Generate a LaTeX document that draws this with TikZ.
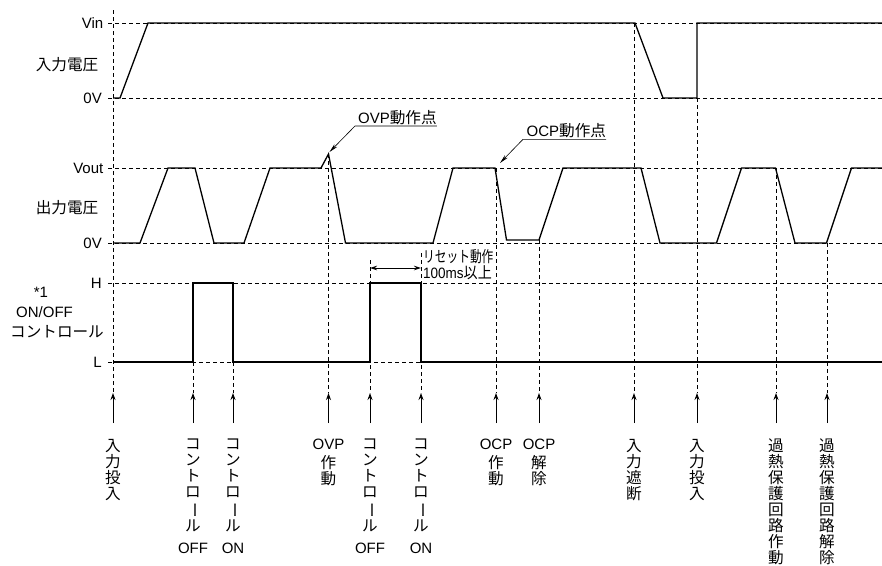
\documentclass[tikz,border=0pt]{standalone}
\usepackage{fontspec}
\usepackage{graphicx}
\setmainfont{Liberation Sans}
\newfontfamily\jp{Noto Sans CJK JP}[Scale=1.04]
\usetikzlibrary{arrows.meta}
\newcommand{\vbar}{\rotatebox[origin=c]{-90}{ー}}
\newcommand{\lat}[1]{{\normalfont #1}}
\begin{document}
\begin{tikzpicture}[x=1pt,y=-1pt,
  wave/.style={line width=1.3pt, line join=miter},
  guide/.style={line width=0.75pt, dash pattern=on 4pt off 3pt},
  evarrow/.style={line width=0.9pt, -{Stealth[length=7pt,width=5pt]}},
  leader/.style={line width=0.6pt, -{Stealth[length=9pt,width=3.8pt]}},
  resetarrow/.style={line width=0.9pt, {Stealth[length=7pt,width=4.5pt]}-{Stealth[length=7pt,width=4.5pt]}},
  lbl/.style={font=\fontsize{15}{16}\selectfont, inner sep=0pt},
  jlbl/.style={font=\fontsize{15}{16}\selectfont\jp, inner sep=0pt},
  vlbl/.style={jlbl, align=center, anchor=north},
]
\useasboundingbox (0,0) rectangle (882,565);

% horizontal guides
\foreach \y in {23,98,168,243,283,362} \draw[guide] (108,\y) -- (882,\y);

% vertical guides
\foreach \x/\y in {113/10,193/362,233/362,328.5/154,370/260,421/253,496/168,539/240,634/23,697/98,776/168,827/243}
  \draw[guide] (\x,\y) -- (\x,393);

% input voltage
\draw[wave] (113,98) -- (120,98) -- (148,23) -- (635,23) -- (663,98) -- (697,98) -- (697,23) -- (882,23);
% output voltage
\draw[wave] (113,243) -- (140,243) -- (168,168) -- (195,168) -- (214,243) -- (244,243) -- (270,168)
  -- (321,168) -- (328.5,154) -- (345.5,243) -- (433,243) -- (453,168) -- (495,168) -- (506.5,240)
  -- (539,240) -- (563,168) -- (641,168) -- (660,243) -- (716.5,243) -- (741.5,168) -- (775.5,168)
  -- (795,243) -- (826.5,243) -- (851.5,168) -- (882,168);
% control
\draw[wave] (113,362) -- (193,362) -- (193,283) -- (233,283) -- (233,362) -- (370,362) -- (370,283)
  -- (421,283) -- (421,362) -- (882,362);

% left labels
\node[lbl, anchor=east] (lvin) at (103.5,23) {Vin};
\node[jlbl] (lin) at (67,65) {入力電圧};
\node[lbl, anchor=east] (l0a) at (102,98) {0V};
\node[lbl, anchor=east] (lvout) at (103.5,168) {Vout};
\node[jlbl] (lout) at (67,208) {出力電圧};
\node[lbl, anchor=east] (l0b) at (102,243) {0V};
\node[lbl, anchor=east] (lh) at (102,283) {H};
\node[lbl, anchor=east] (ll) at (102,362) {L};
\node[lbl] (lc1) at (41,292) {*1};
\node[lbl] (lc2) at (44.5,312) {ON/OFF};
\node[jlbl] (lc3) at (57,332) {コントロール};

% annotations
\node[lbl, anchor=base west] (ovp) at (358,123) {OVP{\jp 動作点}};
\coordinate (ovpU) at (355,126);
\coordinate (ovpT) at (329.5,152);
\draw[leader] (ovpU -| ovp.east) -- (ovpU) -- (ovpT);
\node[lbl, anchor=base west] (ocp) at (526.5,136) {OCP{\jp 動作点}};
\coordinate (ocpU) at (523,139.3);
\coordinate (ocpT) at (500,163);
\draw[leader] (ocpU -| ocp.east) -- (ocpU) -- (ocpT);

% reset
\coordinate (rsA) at (370,268);
\coordinate (rsB) at (421,268);
\draw[resetarrow] (rsA) -- (rsB);
\node[jlbl, anchor=west] (rs1) at (423,256.5) {\scalebox{0.75}[1]{リセット動作}};
\node[lbl, anchor=west] (rs2) at (423,273) {\scalebox{0.9}[1]{100ms{\jp 以上}}};

% bottom event labels and arrows
\foreach \n/\x/\t in {
  1/113/{入\\力\\投\\入},
  2/193/{コ\\ン\\ト\\ロ\\\vbar\\ル\\[6pt]\lat{OFF}},
  3/233/{コ\\ン\\ト\\ロ\\\vbar\\ル\\[6pt]\lat{ON}},
  4/328.5/{\lat{OVP}\\[3pt]作\\動},
  5/370/{コ\\ン\\ト\\ロ\\\vbar\\ル\\[6pt]\lat{OFF}},
  6/421/{コ\\ン\\ト\\ロ\\\vbar\\ル\\[6pt]\lat{ON}},
  7/496/{\lat{OCP}\\[3pt]作\\動},
  8/539/{\lat{OCP}\\[3pt]解\\除},
  9/634/{入\\力\\遮\\断},
  10/697/{入\\力\\投\\入},
  11/776/{過\\熱\\保\\護\\回\\路\\作\\動},
  12/827/{過\\熱\\保\\護\\回\\路\\解\\除}} {
  \node[vlbl] (b\n) at (\x,439) {\t};
  \coordinate (s\n) at (\x,423);
  \coordinate (t\n) at (\x,393);
  \draw[evarrow] (s\n) -- (t\n);
}
\end{tikzpicture}
\end{document}
